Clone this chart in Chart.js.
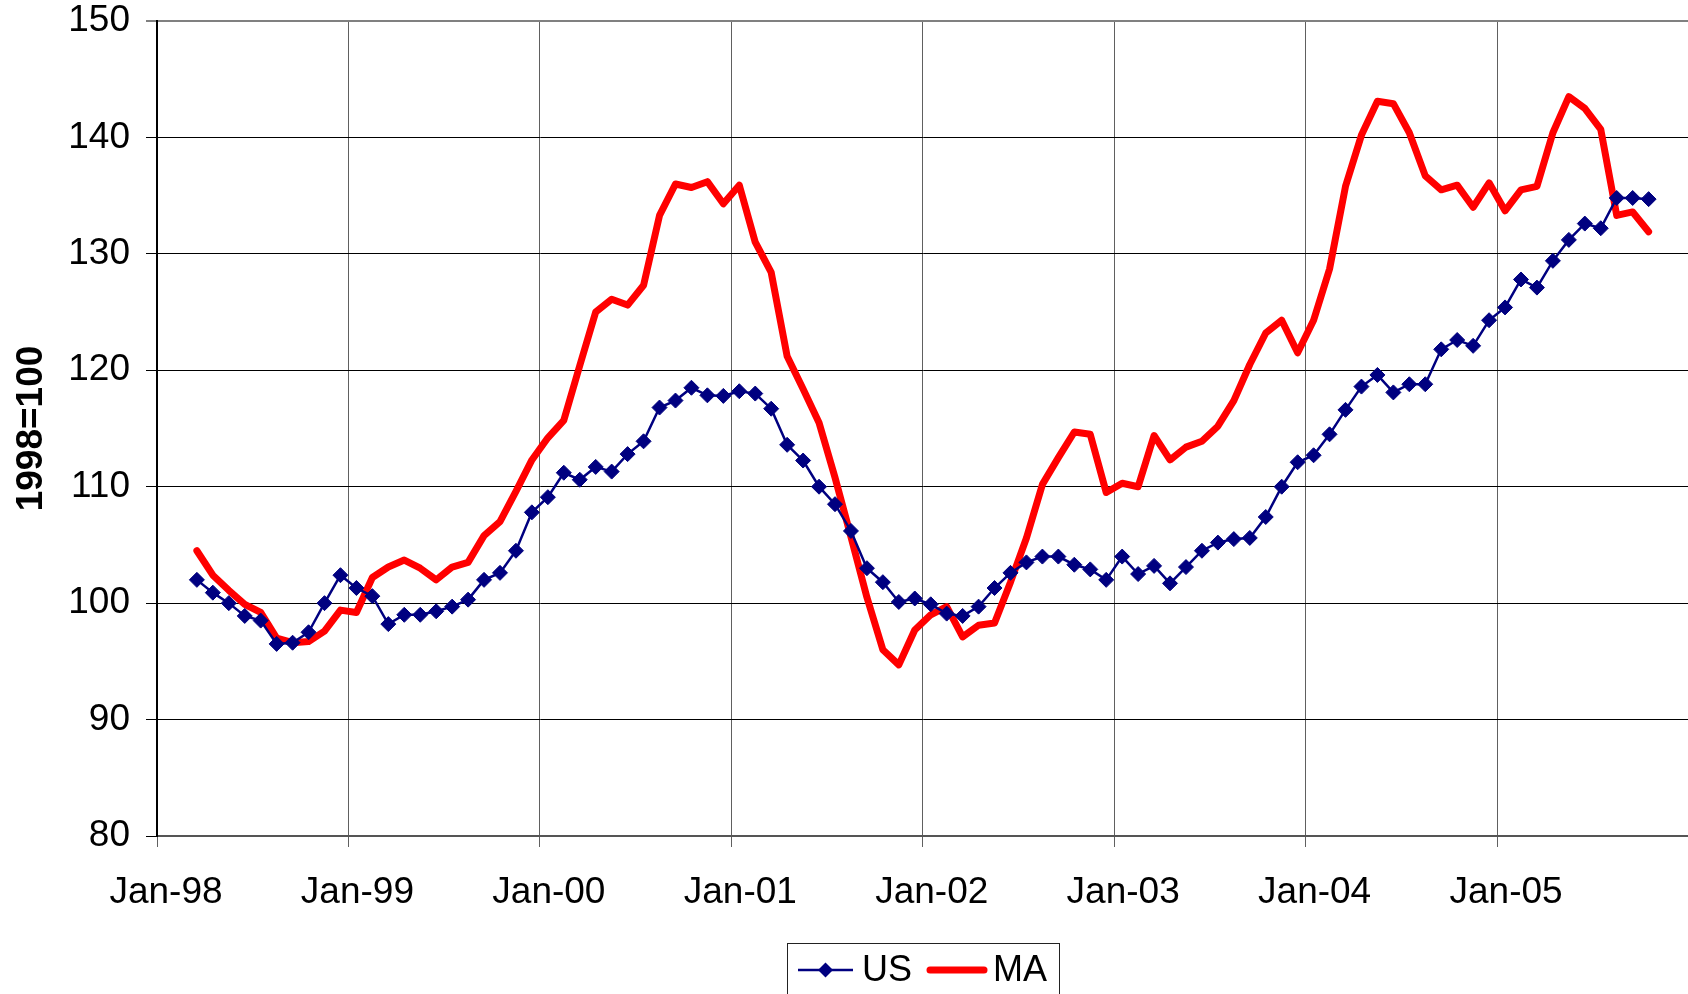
<!DOCTYPE html>
<html>
<head>
<meta charset="utf-8">
<script src="https://cdn.jsdelivr.net/npm/chart.js@4/dist/chart.umd.min.js"></script>
<style>
  html, body { margin: 0; padding: 0; background: #fff; overflow: hidden; }
  #wrap { width: 1688px; height: 994px; position: relative; overflow: hidden; }
  canvas { display: block; }
</style>
</head>
<body>
<div id="wrap"><canvas id="c" width="1697" height="994"></canvas></div>
<script>
// Monthly observations, Mar-98 .. Oct-05
const categories = [
  'Mar-98','Apr-98','May-98','Jun-98','Jul-98','Aug-98','Sep-98','Oct-98','Nov-98','Dec-98',
  'Jan-99','Feb-99','Mar-99','Apr-99','May-99','Jun-99','Jul-99','Aug-99','Sep-99','Oct-99','Nov-99','Dec-99',
  'Jan-00','Feb-00','Mar-00','Apr-00','May-00','Jun-00','Jul-00','Aug-00','Sep-00','Oct-00','Nov-00','Dec-00',
  'Jan-01','Feb-01','Mar-01','Apr-01','May-01','Jun-01','Jul-01','Aug-01','Sep-01','Oct-01','Nov-01','Dec-01',
  'Jan-02','Feb-02','Mar-02','Apr-02','May-02','Jun-02','Jul-02','Aug-02','Sep-02','Oct-02','Nov-02','Dec-02',
  'Jan-03','Feb-03','Mar-03','Apr-03','May-03','Jun-03','Jul-03','Aug-03','Sep-03','Oct-03','Nov-03','Dec-03',
  'Jan-04','Feb-04','Mar-04','Apr-04','May-04','Jun-04','Jul-04','Aug-04','Sep-04','Oct-04','Nov-04','Dec-04',
  'Jan-05','Feb-05','Mar-05','Apr-05','May-05','Jun-05','Jul-05','Aug-05','Sep-05','Oct-05'
];

const usValues = [
  102.0,100.9,100.0,98.9,98.5,96.5,96.6,97.5,100.0,102.4,
  101.3,100.6,98.2,99.0,99.0,99.3,99.7,100.3,102.0,102.6,104.5,107.8,
  109.1,111.2,110.6,111.7,111.3,112.8,113.9,116.8,117.4,118.5,117.85,117.8,
  118.2,118.0,116.7,113.6,112.25,110.0,108.5,106.2,103.0,101.8,100.1,100.4,
  99.9,99.1,98.9,99.7,101.3,102.6,103.5,104.0,104.0,103.3,102.9,102.0,
  104.0,102.5,103.2,101.7,103.1,104.5,105.2,105.5,105.6,107.4,110.0,112.1,
  112.7,114.5,116.6,118.6,119.6,118.1,118.8,118.8,121.8,122.6,122.1,124.3,
  125.4,127.8,127.1,129.4,131.2,132.6,132.2,134.8,134.8,134.7
];

const maValues = [
  104.5,102.4,101.1,99.9,99.2,97.0,96.6,96.7,97.6,99.4,
  99.2,102.2,103.1,103.7,103.0,102.0,103.1,103.5,105.8,107.0,109.6,112.3,
  114.2,115.7,120.4,125.0,126.1,125.6,127.3,133.3,136.0,135.7,136.2,134.3,
  135.9,131.0,128.4,121.2,118.4,115.5,110.8,105.7,100.5,96.0,94.7,97.7,
  99.0,99.7,97.1,98.1,98.3,101.8,105.6,110.2,112.5,114.7,114.5,109.5,
  110.3,110.0,114.4,112.3,113.4,113.9,115.2,117.4,120.5,123.2,124.3,121.5,
  124.3,128.7,135.8,140.2,143.1,142.9,140.4,136.7,135.5,135.9,134.0,136.1,
  133.7,135.5,135.8,140.4,143.5,142.5,140.7,133.3,133.6,131.9
];

const xTickLabels = ['Jan-98','Jan-99','Jan-00','Jan-01','Jan-02','Jan-03','Jan-04','Jan-05',''];
const yTicks = [80, 90, 100, 110, 120, 130, 140, 150];
const yTitle = '1998=100';
const seriesNames = ['US', 'MA'];

const MONTHS = ['Jan','Feb','Mar','Apr','May','Jun','Jul','Aug','Sep','Oct','Nov','Dec'];
// months elapsed since Jan-98, plotted at mid-month
function monthPos(label) {
  const [m, y] = label.split('-');
  const yr = parseInt(y, 10);
  const year = yr < 50 ? 2000 + yr : 1900 + yr;
  return (year - 1998) * 12 + MONTHS.indexOf(m) + 0.5;
}
const toPoints = vals => vals.map((v, i) => ({ x: monthPos(categories[i]), y: v }));

const FONT = "'Liberation Sans', Arial, sans-serif";

const legendPlugin = {
  id: 'boxLegend',
  afterDraw(chart) {
    const ctx = chart.ctx;
    ctx.save();
    ctx.strokeStyle = '#222';
    ctx.lineWidth = 1;
    ctx.strokeRect(787.5, 943.5, 272, 60);
    const cy = 970;
    ctx.font = '36px ' + FONT;
    ctx.textBaseline = 'middle';
    const ds = chart.data.datasets;
    // US entry
    ctx.strokeStyle = ds[0].borderColor;
    ctx.lineWidth = ds[0].borderWidth;
    ctx.beginPath(); ctx.moveTo(798, cy); ctx.lineTo(853, cy); ctx.stroke();
    ctx.fillStyle = ds[0].pointBackgroundColor;
    ctx.beginPath();
    ctx.moveTo(825.5, cy - 7.5); ctx.lineTo(833, cy); ctx.lineTo(825.5, cy + 7.5); ctx.lineTo(818, cy);
    ctx.closePath(); ctx.fill();
    ctx.fillStyle = '#000';
    ctx.fillText(ds[0].label, 862, cy + 1);
    // MA entry
    ctx.strokeStyle = ds[1].borderColor;
    ctx.lineWidth = ds[1].borderWidth;
    ctx.lineCap = 'round';
    ctx.beginPath(); ctx.moveTo(930, cy); ctx.lineTo(984, cy); ctx.stroke();
    ctx.fillStyle = '#000';
    ctx.fillText(ds[1].label, 993, cy + 1);
    ctx.restore();
  }
};

new Chart(document.getElementById('c'), {
  type: 'line',
  data: {
    datasets: [
      {
        label: seriesNames[0],
        data: toPoints(usValues),
        borderColor: '#000080',
        backgroundColor: '#000080',
        borderWidth: 2.5,
        pointStyle: 'rectRot',
        pointRadius: 7.5,
        pointBackgroundColor: '#000080',
        pointBorderColor: '#000080',
        pointBorderWidth: 1,
        tension: 0,
        fill: false
      },
      {
        label: seriesNames[1],
        data: toPoints(maValues),
        borderColor: '#ff0000',
        backgroundColor: '#ff0000',
        borderWidth: 7,
        pointRadius: 0,
        borderCapStyle: 'round',
        borderJoinStyle: 'round',
        tension: 0,
        fill: false
      }
    ]
  },
  options: {
    responsive: false,
    animation: false,
    layout: { padding: { top: 21, right: 0, left: 0, bottom: 0 } },
    plugins: {
      legend: { display: false },
      tooltip: { enabled: false }
    },
    scales: {
      x: {
        type: 'linear',
        min: 0,
        max: 96,
        afterBuildTicks(scale) {
          scale.ticks = xTickLabels.map((_, i) => ({ value: i * 12 }));
        },
        afterFit(scale) {
          scale.height = 158;
          scale.paddingLeft = 0; scale.paddingRight = 0;
        },
        ticks: {
          autoSkip: false,
          maxRotation: 0,
          padding: 24,
          labelOffset: 9,
          color: '#000',
          font: { family: FONT, size: 37 },
          callback: (v) => xTickLabels[Math.round(v / 12)] ?? ''
        },
        grid: {
          color: (c) => c.tick && c.tick.value === 96 ? '#808080' : '#606060',
          lineWidth: (c) => c.tick && c.tick.value === 96 ? 2 : 1,
          tickLength: 11,
          drawTicks: true
        },
        border: { color: '#555', width: 2 }
      },
      y: {
        min: 80,
        max: 150,
        afterBuildTicks(scale) {
          scale.ticks = yTicks.map(v => ({ value: v }));
        },
        afterFit(scale) {
          scale.width = 157;
          scale.paddingTop = 0; scale.paddingBottom = 0;
        },
        ticks: {
          padding: 16,
          color: '#000',
          font: { family: FONT, size: 37 }
        },
        grid: {
          color: (c) => c.tick && c.tick.value === 150 ? '#808080' : '#000',
          lineWidth: (c) => c.tick && c.tick.value === 150 ? 2 : 1,
          tickLength: 11
        },
        border: { color: '#000', width: 2 },
        title: {
          display: true,
          text: yTitle,
          color: '#000',
          font: { family: FONT, size: 37, weight: 'bold' },
          padding: { top: 10, bottom: 0 }
        }
      }
    }
  },
  plugins: [legendPlugin]
});
</script>
</body>
</html>
